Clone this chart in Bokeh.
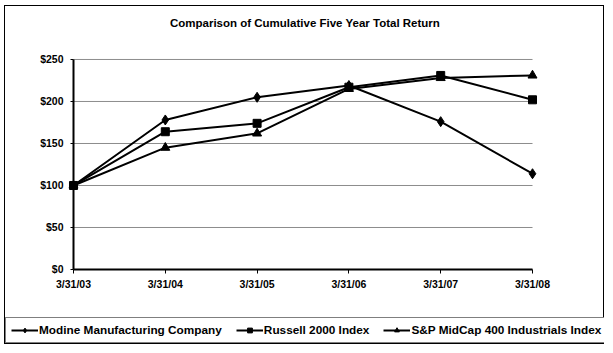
from bokeh.plotting import figure
from bokeh.models import (Range1d, FixedTicker, Legend, LegendItem, Title,
                          NumeralTickFormatter)
from bokeh.embed import file_html
from bokeh.resources import INLINE

dates = ["3/31/03", "3/31/04", "3/31/05", "3/31/06", "3/31/07", "3/31/08"]
modine = [100, 178, 205, 219, 176, 114]
russell = [100, 164, 174, 217, 231, 202]
sp_midcap = [100, 145, 162, 215, 228, 231]
y_ticks = [0, 50, 100, 150, 200, 250]
series_names = ["Modine Manufacturing Company", "Russell 2000 Index",
                "S&P MidCap 400 Industrials Index"]
series_values = [modine, russell, sp_midcap]
markers = ["diamond", "square", "triangle"]
sizes = [10, 8, 9]

FONT = "Liberation Sans"
xs = list(range(len(dates)))

# The frame spans the whole bordered box so the legend strip can sit inside it;
# the axes are pinned at x=0 / y=0 and the ranges leave room around the data.
p = figure(width=600, height=339, output_backend="svg", toolbar_location=None,
           title=None,
           x_range=Range1d(-0.7407, 5.7843), y_range=Range1d(-88.1, 259.5),
           min_border_left=0, min_border_right=1, min_border_top=45,
           min_border_bottom=2)
p.styles = {"border": "1px solid black", "margin-left": "4px", "margin-top": "5px"}
spacer = Title(text=" ", text_font=FONT, text_font_size="10px", standoff=1)
p.add_layout(spacer, "above")
title = Title(text="Comparison of Cumulative Five Year Total Return",
              align="center", text_font=FONT, text_font_size="11.5px",
              text_font_style="bold", text_color="black", standoff=14,
              vertical_align="top")
p.add_layout(title, "above")
p.outline_line_color = None
p.background_fill_color = "white"
p.border_fill_color = "white"
p.xgrid.visible = False
p.ygrid.visible = False

p.xaxis.ticker = FixedTicker(ticks=xs)
p.xaxis.major_label_overrides = {i: d for i, d in enumerate(dates)}
p.xaxis.fixed_location = 0
p.xaxis.bounds = (xs[0], xs[-1])
p.yaxis.ticker = FixedTicker(ticks=y_ticks)
p.yaxis.formatter = NumeralTickFormatter(format="$0")
p.yaxis.fixed_location = 0
p.yaxis.bounds = (y_ticks[0], y_ticks[-1])
for ax in (p.xaxis[0], p.yaxis[0]):
    ax.axis_line_color = "black"
    ax.axis_line_width = 2
    ax.major_tick_line_color = "black"
    ax.major_tick_line_width = 1
    ax.major_tick_in = 0
    ax.major_tick_out = 4
    ax.minor_tick_line_color = None
    ax.major_label_text_font = FONT
    ax.major_label_text_font_style = "bold"
    ax.major_label_text_font_size = "10.5px"
    ax.major_label_text_color = "black"
p.xaxis.major_label_standoff = 5
p.yaxis.major_label_standoff = 7
p.yaxis.major_tick_out = 3

# horizontal gridlines limited to the data area
grid_y = y_ticks[1:]
p.segment(x0=[xs[0]] * len(grid_y), x1=[xs[-1]] * len(grid_y), y0=grid_y, y1=grid_y,
          line_color="#8c8c8c", line_width=1, level="underlay")

items = []
for name, vals, mk, sz in zip(series_names, series_values, markers, sizes):
    ln = p.line(xs, vals, line_color="black", line_width=2)
    sc = p.scatter(xs, vals, marker=mk, size=sz, fill_color="black", line_color="black")
    items.append(LegendItem(label=name, renderers=[ln, sc]))

legend = Legend(items=items, orientation="horizontal", location=(0, 0),
                glyph_width=27, glyph_height=12, label_standoff=1, spacing=14,
                padding=5, margin=0,
                label_text_font=FONT, label_text_font_style="bold",
                label_text_font_size="11.8px", label_text_color="black",
                border_line_color="black", border_line_width=1,
                background_fill_color="white", background_fill_alpha=1)
p.add_layout(legend, "center")

open("out.html", "w").write(file_html(p, INLINE))
